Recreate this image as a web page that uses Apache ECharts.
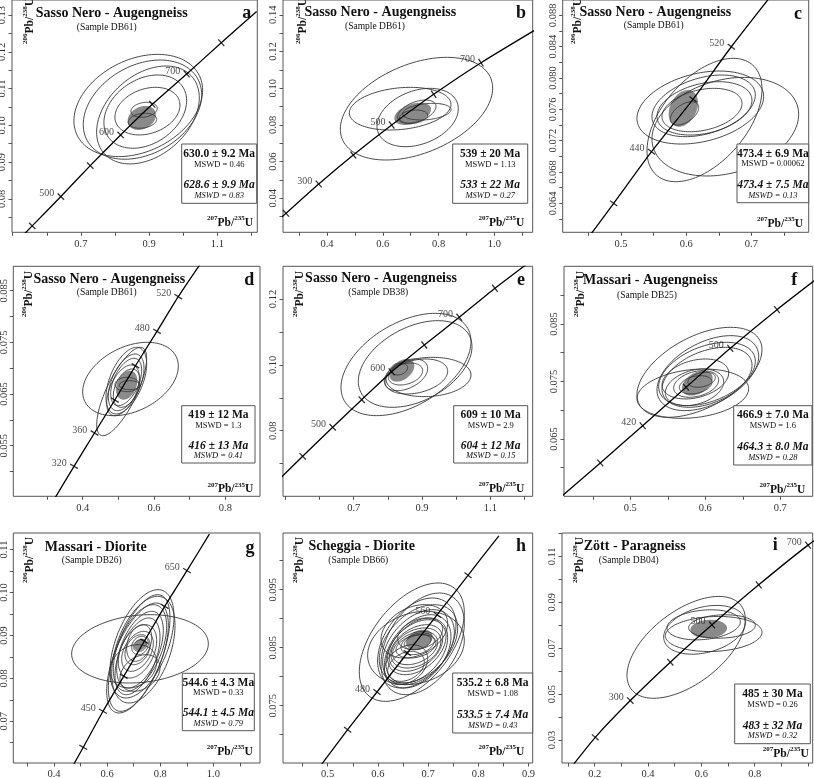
<!DOCTYPE html>
<html><head><meta charset="utf-8">
<script src="https://cdn.jsdelivr.net/npm/echarts@6/dist/echarts.min.js"></script>
<style>html,body{margin:0;padding:0;background:#fff}#c{width:814px;height:778px}</style>
</head><body><div id="c"></div>
<script>
// ================= DATA =================
const titles = ['Sasso Nero - Augengneiss','Sasso Nero - Augengneiss','Sasso Nero - Augengneiss','Sasso Nero - Augengneiss','Sasso Nero - Augengneiss','Massari - Augengneiss','Massari - Diorite','Scheggia - Diorite','Zött - Paragneiss'];
const samples = ['(Sample DB61)','(Sample DB61)','(Sample DB61)','(Sample DB61)','(Sample DB38)','(Sample DB25)','(Sample DB26)','(Sample DB66)','(Sample DB04)'];
const letters = ['a','b','c','d','e','f','g','h','i'];

// Panel a
const aXRange = [0.498, 1.217], aYRange = [0.0709, 0.1341];
const aXTicks = [0.5,0.6,0.7,0.8,0.9,1.0,1.1,1.2];
const aXLabels = ['0.7','0.9','1.1'];
const aYTicks = [0.075,0.08,0.085,0.09,0.095,0.1,0.105,0.11,0.115,0.12,0.125,0.13];
const aYLabels = ['0.08','0.09','0.10','0.11','0.12','0.13'];
// [age, 207Pb/235U, 206Pb/238U, tick, label]
const aConcordia = [[400,0.473,0.0646,0,0],[450,0.5572,0.07266,1,0],[500,0.6413,0.08063,1,1],[550,0.7273,0.08905,1,0],[600,0.8164,0.09739,1,1],[650,0.9091,0.10573,1,0],[700,1.0100,0.11397,1,1],[750,1.1114,0.12247,1,0],[800,1.215,0.1310,0,0]];
// [xMin, xMax, yMin, yMax, rho]
const aEllipses = [[0.6795,1.0568,0.09150,0.11931,0.3],[0.7068,1.0539,0.09078,0.11777,0.3],[0.7460,1.0470,0.08951,0.11614,0.35],[0.7674,1.0099,0.09377,0.11370,0.3],[0.7997,0.9903,0.09739,0.11034,0.25],[0.8466,0.9238,0.10219,0.10627,0.2],[0.8388,0.9219,0.09920,0.10328,0.2]];
const aMean = [0.8369,0.9199,0.09875,0.10527,0.25];
const aResult = ['630.0 ± 9.2 Ma','MSWD = 0.46','628.6 ± 9.9 Ma','MSWD = 0.83'];

// Panel b
const bXRange = [0.2423, 1.1373], bYRange = [0.02147, 0.14807];
const bXTicks = [0.3,0.4,0.5,0.6,0.7,0.8,0.9,1.0,1.1];
const bXLabels = ['0.4','0.6','0.8','1.0'];
const bYTicks = [0.03,0.04,0.05,0.06,0.07,0.08,0.09,0.1,0.11,0.12,0.13,0.14];
const bYLabels = ['0.04','0.06','0.08','0.10','0.12','0.14'];
const bConcordia = [[100,0.136,0.0158,0,0],[200,0.2530,0.03183,1,0],[300,0.3703,0.04779,1,1],[400,0.4943,0.06360,1,0],[500,0.6319,0.07995,1,1],[600,0.7824,0.09668,1,0],[700,0.9520,0.11390,1,1],[800,1.142,0.1314,0,0]];
const bEllipses = [[0.4478,0.9938,0.06087,0.11682,0.4],[0.4800,0.8444,0.07722,0.10047,0.2],[0.5792,0.8707,0.06814,0.09993,0.3],[0.6533,0.7907,0.08086,0.09357,0.45],[0.6593,0.7608,0.08086,0.08812,0.2],[0.6712,0.8444,0.08267,0.09175,0.25]];
const bMean = [0.6413,0.7728,0.07995,0.09211,0.4];
const bResult = ['539 ± 20 Ma','MSWD = 1.13','533 ± 22 Ma','MSWD = 0.27'];

// Panel c
const cXRange = [0.4106, 0.7879], cYRange = [0.0603, 0.08996];
const cXTicks = [0.45,0.5,0.55,0.6,0.65,0.7,0.75];
const cXLabels = ['0.5','0.6','0.7'];
const cYTicks = [0.062,0.064,0.066,0.068,0.07,0.072,0.074,0.076,0.078,0.08,0.082,0.084,0.086,0.088];
const cYLabels = ['0.064','0.068','0.072','0.076','0.080','0.084','0.088'];
const cConcordia = [[360,0.430,0.0574,0,0],[400,0.4888,0.0640,1,0],[440,0.5468,0.07059,1,1],[480,0.6104,0.07728,1,0],[520,0.6692,0.08399,1,1],[560,0.733,0.0908,0,0]];
const cEllipses = [[0.5245,0.7188,0.07157,0.08089,0.3],[0.5475,0.7725,0.06749,0.08008,0.25],[0.5399,0.7163,0.06676,0.08251,0.5],[0.5475,0.7060,0.07251,0.08038,0.35],[0.5552,0.7009,0.07272,0.07953,0.3],[0.5629,0.6856,0.07314,0.07868,0.3],[0.5757,0.6191,0.07400,0.07697,0.5]];
const cMean = [0.5731,0.6181,0.07378,0.07846,0.3];
const cResult = ['473.4 ± 6.9 Ma','MSWD = 0.00062','473.4 ± 7.5 Ma','MSWD = 0.13'];

// Panel d
const dXRange = [0.2054, 0.8971], dYRange = [0.04521, 0.08972];
const dXTicks = [0.3,0.4,0.5,0.6,0.7,0.8];
const dXLabels = ['0.4','0.6','0.8'];
const dYTicks = [0.05,0.055,0.06,0.065,0.07,0.075,0.08,0.085];
const dYLabels = ['0.055','0.065','0.075','0.085'];
const dConcordia = [[280,0.318,0.0444,0,0],[320,0.3756,0.05101,1,1],[360,0.4331,0.05746,1,1],[400,0.4900,0.06384,1,0],[440,0.5480,0.07048,1,0],[480,0.6083,0.07714,1,1],[520,0.6680,0.08384,1,1],[560,0.7359,0.0908,0,0]];
const dEllipses = [[0.3999,0.6681,0.06081,0.07501,0.35],[0.4392,0.5793,0.05694,0.07404,0.75],[0.4653,0.5793,0.06114,0.07404,0.5],[0.4719,0.5719,0.06178,0.07275,0.5],[0.4784,0.5653,0.06275,0.07191,0.5],[0.4672,0.5588,0.06081,0.07062,0.5],[0.4859,0.5606,0.06243,0.06984,0.4],[0.4906,0.5588,0.06546,0.06823,0],[0.5027,0.5606,0.06584,0.06759,0]];
const dMean = [0.4934,0.5532,0.06391,0.06952,0.3];
const dResult = ['419 ± 12 Ma','MSWD = 1.3','416 ± 13 Ma','MSWD = 0.41'];

// Panel e
const eXRange = [0.4931, 1.2239], eYRange = [0.06007, 0.12994];
const eXTicks = [0.5,0.6,0.7,0.8,0.9,1.0,1.1,1.2];
const eXLabels = ['0.7','0.9','1.1'];
const eYTicks = [0.07,0.08,0.09,0.1,0.11,0.12];
const eYLabels = ['0.08','0.10','0.12'];
const eConcordia = [[400,0.468,0.0638,0,0],[450,0.5507,0.07222,1,0],[500,0.6385,0.08103,1,1],[550,0.7234,0.08942,1,0],[600,0.8112,0.09792,1,1],[650,0.9066,0.10603,1,0],[700,1.0090,0.11445,1,1],[750,1.1135,0.12326,1,0],[800,1.222,0.1318,0,0]];
const eEllipses = [[0.6628,1.0433,0.08457,0.11565,0.45],[0.7135,1.0462,0.08710,0.11342,0.4],[0.7945,1.0433,0.09034,0.10229,0.1],[0.7916,0.9750,0.09115,0.10178,0.3],[0.7896,0.9165,0.09216,0.10178,0.4],[0.8013,0.9018,0.09388,0.10057,0.3],[0.8072,0.8579,0.09692,0.10057,0.2]];
const eMean = [0.8043,0.8774,0.09489,0.10178,0.4];
const eResult = ['609 ± 10 Ma','MSWD = 2.9','604 ± 12 Ma','MSWD = 0.15'];

// Panel f
const fXRange = [0.4116, 0.7432], fYRange = [0.05503, 0.09503];
const fXTicks = [0.45,0.5,0.55,0.6,0.65,0.7];
const fXLabels = ['0.5','0.6','0.7'];
const fYTicks = [0.06,0.065,0.07,0.075,0.08,0.085,0.09];
const fYLabels = ['0.065','0.075','0.085'];
const fConcordia = [[340,0.400,0.0541,0,0],[380,0.4600,0.06083,1,0],[420,0.5165,0.06731,1,1],[460,0.5743,0.07399,1,0],[500,0.6333,0.08077,1,1],[540,0.6956,0.08749,1,0],[580,0.762,0.0942,0,0]];
const fEllipses = [[0.5089,0.6756,0.06877,0.08442,0.5],[0.5356,0.6712,0.06993,0.08297,0.45],[0.5089,0.6578,0.06859,0.07717,0.2],[0.5378,0.6667,0.07080,0.08181,0.4],[0.5423,0.6623,0.07051,0.08094,0.4],[0.5423,0.6312,0.07196,0.07891,0.3],[0.5467,0.6245,0.07080,0.07717,0.3],[0.5578,0.6178,0.07225,0.07688,0.3],[0.5654,0.6089,0.07283,0.07601,0.3],[0.5769,0.6134,0.07399,0.07659,0.3]];
const fMean = [0.5689,0.6098,0.07254,0.07688,0.4];
const fResult = ['466.9 ± 7.0 Ma','MSWD = 1.6','464.3 ± 8.0 Ma','MSWD = 0.28'];

// Panel g
const gXRange = [0.2468, 1.1756], gYRange = [0.06028, 0.11387];
const gXTicks = [0.3,0.4,0.5,0.6,0.7,0.8,0.9,1.0,1.1];
const gXLabels = ['0.4','0.6','0.8','1.0'];
const gYTicks = [0.065,0.07,0.075,0.08,0.085,0.09,0.095,0.1,0.105,0.11];
const gYLabels = ['0.07','0.08','0.09','0.10','0.11'];
const gConcordia = [[350,0.436,0.0558,0,0],[400,0.5103,0.06394,1,0],[450,0.5845,0.07233,1,1],[500,0.6624,0.08048,1,0],[550,0.7400,0.08864,1,0],[600,0.8168,0.09679,1,0],[650,0.9007,0.10509,1,1],[700,0.985,0.1136,0,0]];
const gEllipses = [[0.4665,0.9811,0.07892,0.09484,0.15],[0.6108,0.8518,0.07543,0.10067,0.5],[0.6046,0.8367,0.07232,0.09950,0.6],[0.5983,0.8305,0.07193,0.09756,0.6],[0.6171,0.8556,0.07426,0.09912,0.45],[0.6234,0.8242,0.07698,0.09717,0.5],[0.6360,0.8116,0.07776,0.09562,0.5],[0.6297,0.7991,0.07620,0.09407,0.5],[0.6422,0.7866,0.08009,0.09251,0.4],[0.6548,0.7740,0.08164,0.09096,0.4],[0.6673,0.7614,0.08319,0.09018,0.3],[0.6736,0.7677,0.08397,0.09251,0.3],[0.6108,0.7866,0.07776,0.08786,0.2],[0.6924,0.7552,0.08552,0.08980,0.2],[0.6987,0.7489,0.08630,0.08902,0.2],[0.6485,0.7991,0.07698,0.08552,0.3]];
const gMean = [0.7012,0.7489,0.08646,0.08925,0.3];
const gResult = ['544.6 ± 4.3 Ma','MSWD = 0.33','544.1 ± 4.5 Ma','MSWD = 0.79'];

// Panel h
const hXRange = [0.4110, 0.9084], hYRange = [0.06512, 0.10478];
const hXTicks = [0.45,0.5,0.55,0.6,0.65,0.7,0.75,0.8,0.85,0.9];
const hXLabels = ['0.5','0.6','0.7','0.8','0.9'];
const hYTicks = [0.07,0.075,0.08,0.085,0.09,0.095,0.1];
const hYLabels = ['0.075','0.085','0.095'];
const hConcordia = [[400,0.481,0.0641,0,0],[440,0.5398,0.07086,1,0],[480,0.5982,0.07736,1,1],[520,0.6586,0.08409,1,0],[560,0.7183,0.09069,1,1],[600,0.7795,0.09748,1,0],[640,0.841,0.1043,0,0]];
const hEllipses = [[0.5630,0.7722,0.07575,0.09616,0.5],[0.5796,0.7722,0.07863,0.09127,0.2],[0.6062,0.7722,0.07690,0.09443,0.4],[0.5995,0.7556,0.07805,0.09357,0.4],[0.6028,0.7589,0.07891,0.09242,0.4],[0.6095,0.7523,0.07863,0.09156,0.4],[0.6128,0.7456,0.07805,0.09069,0.4],[0.6161,0.7390,0.07891,0.09012,0.4],[0.6195,0.7357,0.08035,0.08983,0.4],[0.6228,0.7291,0.08092,0.08897,0.4],[0.6261,0.7257,0.08150,0.08840,0.35],[0.6294,0.7191,0.08207,0.08782,0.35],[0.6361,0.7157,0.08322,0.08725,0.3],[0.6460,0.7124,0.08380,0.08753,0.3],[0.6526,0.7058,0.08466,0.08725,0.3],[0.6128,0.6991,0.07863,0.08552,0.3],[0.6195,0.6925,0.07920,0.08437,0.3],[0.6062,0.7390,0.08322,0.09242,0.3],[0.6394,0.7291,0.08466,0.09012,0.3]];
const hMean = [0.6560,0.7091,0.08466,0.08811,0.3];
const hResult = ['535.2 ± 6.8 Ma','MSWD = 1.08','533.5 ± 7.4 Ma','MSWD = 0.43'];

// Panel i
const iXRange = [0.0774, 1.0174], iYRange = [0.02, 0.12018];
const iXTicks = [0.1,0.2,0.3,0.4,0.5,0.6,0.7,0.8,0.9,1.0];
const iXLabels = ['0.2','0.4','0.6','0.8'];
const iYTicks = [0.03,0.04,0.05,0.06,0.07,0.08,0.09,0.1,0.11,0.12];
const iYLabels = ['0.03','0.05','0.07','0.09','0.11'];
const iConcordia = [[100,0.095,0.0156,0,0],[200,0.2022,0.03118,1,0],[300,0.3335,0.04719,1,1],[400,0.4835,0.06390,1,0],[500,0.6398,0.08017,1,1],[600,0.815,0.0976,1,0],[700,1.000,0.1149,1,1],[800,1.21,0.1325,0,0]];
const iEllipses = [[0.3211,0.7648,0.04819,0.09255,0.55],[0.4586,0.7648,0.06739,0.08863,0.3],[0.4648,0.8273,0.06856,0.08383,0.1],[0.4711,0.7461,0.07364,0.08673,0.2],[0.5523,0.8023,0.07437,0.08455,0.1]];
const iMean = [0.5586,0.6961,0.07437,0.08237,0.1];
const iResult = ['485 ± 30 Ma','MSWD = 0.26','483 ± 32 Ma','MSWD = 0.32'];

// ================= LAYOUT (pixels) =================
const LAYOUT = [
  {grid:[12,0,245.3,232.3], title:[111.7,13.3], sample:[106.7,27.3], letter:[246.7,13.3], box:[181.7,144,75,59.3], yname:[29,21], xname:[253,221.7]},
  {grid:[283,0,249.7,232.3], title:[380.3,12.7], sample:[375,26], letter:[521,13.3], box:[452.7,144,75,59.3], yname:[302,21], xname:[524.3,221.7]},
  {grid:[562.7,0,246,232.3], title:[655.3,12.7], sample:[653.7,25], letter:[798,14], box:[737,144,71.7,58.7], yname:[577,21], xname:[803,222.7]},
  {grid:[13.3,266.3,246.7,230], title:[109.3,279], sample:[106.7,292.3], letter:[249.3,280.7], box:[181.7,405.7,73.3,57.3], yname:[28,294], xname:[253.3,488.3]},
  {grid:[283,266.3,249.7,230], title:[381,278.3], sample:[378.3,292.3], letter:[521,280.7], box:[453.7,405.7,74,57.3], yname:[299,294], xname:[524.3,488]},
  {grid:[564,266.3,248.7,230], title:[650.3,280.7], sample:[647,295], letter:[794.3,280.7], box:[733.7,405.7,78.3,59.3], yname:[580,294], xname:[805.3,488.7]},
  {grid:[13.3,533,246.7,230], title:[95.7,547.3], sample:[91.7,560.7], letter:[250,548.7], box:[182.3,673.3,72,57.4], yname:[29,560], xname:[252.7,750.7]},
  {grid:[283,533,249.7,230], title:[361.7,546.3], sample:[358.3,560.7], letter:[521,546.3], box:[452.7,673,80,60], yname:[299,560], xname:[524.3,751]},
  {grid:[562,533,250.7,230], title:[634.7,546.3], sample:[628.7,560.7], letter:[775.3,545.3], box:[734.7,684,75.6,59.7], yname:[579,560], xname:[808.7,753]}
];

const panels = [
  {xr:aXRange,yr:aYRange,xt:aXTicks,xl:aXLabels,yt:aYTicks,yl:aYLabels,conc:aConcordia,ell:aEllipses,mean:aMean,res:aResult},
  {xr:bXRange,yr:bYRange,xt:bXTicks,xl:bXLabels,yt:bYTicks,yl:bYLabels,conc:bConcordia,ell:bEllipses,mean:bMean,res:bResult},
  {xr:cXRange,yr:cYRange,xt:cXTicks,xl:cXLabels,yt:cYTicks,yl:cYLabels,conc:cConcordia,ell:cEllipses,mean:cMean,res:cResult},
  {xr:dXRange,yr:dYRange,xt:dXTicks,xl:dXLabels,yt:dYTicks,yl:dYLabels,conc:dConcordia,ell:dEllipses,mean:dMean,res:dResult},
  {xr:eXRange,yr:eYRange,xt:eXTicks,xl:eXLabels,yt:eYTicks,yl:eYLabels,conc:eConcordia,ell:eEllipses,mean:eMean,res:eResult},
  {xr:fXRange,yr:fYRange,xt:fXTicks,xl:fXLabels,yt:fYTicks,yl:fYLabels,conc:fConcordia,ell:fEllipses,mean:fMean,res:fResult},
  {xr:gXRange,yr:gYRange,xt:gXTicks,xl:gXLabels,yt:gYTicks,yl:gYLabels,conc:gConcordia,ell:gEllipses,mean:gMean,res:gResult},
  {xr:hXRange,yr:hYRange,xt:hXTicks,xl:hXLabels,yt:hYTicks,yl:hYLabels,conc:hConcordia,ell:hEllipses,mean:hMean,res:hResult},
  {xr:iXRange,yr:iYRange,xt:iXTicks,xl:iXLabels,yt:iYTicks,yl:iYLabels,conc:iConcordia,ell:iEllipses,mean:iMean,res:iResult}
];

// ================= BUILD =================
const FONT = '"Liberation Serif", "Times New Roman", serif';
const INK = '#111';
function lab(v, nums, strs) {
  for (let k = 0; k < nums.length; k++) if (Math.abs(nums[k] - v) < 1e-9) return strs[k];
  return '';
}
function ellipseRenderer(filled) {
  return function (params, api) {
    const x0 = api.value(0), x1 = api.value(1), y0 = api.value(2), y1 = api.value(3), r = api.value(4);
    const cx = (x0 + x1) / 2, cy = (y0 + y1) / 2, a = (x1 - x0) / 2, b = (y1 - y0) / 2, s = Math.sqrt(1 - r * r);
    const pts = [];
    for (let k = 0; k < 120; k++) {
      const t = k / 120 * Math.PI * 2;
      pts.push(api.coord([cx + a * Math.cos(t), cy + b * (r * Math.cos(t) + s * Math.sin(t))]));
    }
    return {
      type: 'polygon', shape: { points: pts },
      style: filled ? { fill: '#8a8a8a', stroke: null, lineWidth: 0 } : { fill: null, stroke: '#353535', lineWidth: 0.9 }
    };
  };
}

const grids = [], xAxes = [], yAxes = [], series = [], graphics = [];
panels.forEach((p, i) => {
  const L = LAYOUT[i];
  grids.push({ left: L.grid[0], top: L.grid[1], width: L.grid[2], height: L.grid[3], show: true,
    borderColor: '#555', borderWidth: 1, backgroundColor: 'rgba(0,0,0,0)', containLabel: false, outerBoundsMode: 'none' });
  const xn = p.xl.map(Number), yn = p.yl.map(Number);
  xAxes.push({ gridIndex: i, type: 'value', min: p.xr[0], max: p.xr[1], position: 'bottom',
    axisLine: { show: false, onZero: false }, splitLine: { show: false },
    axisTick: { show: true, inside: false, length: 3.5, customValues: p.xt, lineStyle: { color: '#555', width: 1 } },
    axisLabel: { show: true, customValues: xn, formatter: v => lab(v, xn, p.xl), fontFamily: FONT, fontSize: 10.5, color: '#333', margin: 6, hideOverlap: false } });
  yAxes.push({ gridIndex: i, type: 'value', min: p.yr[0], max: p.yr[1], position: 'left',
    axisLine: { show: false, onZero: false }, splitLine: { show: false },
    axisTick: { show: true, inside: false, length: 3.5, customValues: p.yt, lineStyle: { color: '#555', width: 1 } },
    axisLabel: { show: true, customValues: yn, formatter: v => lab(v, yn, p.yl), rotate: 90, fontFamily: FONT, fontSize: 10.5, color: '#333', margin: 4, hideOverlap: false } });

  // gray concordia-age ellipse
  series.push({ type: 'custom', xAxisIndex: i, yAxisIndex: i, data: [p.mean], renderItem: ellipseRenderer(true),
    encode: { x: [0, 1], y: [2, 3] }, clip: true, silent: true, animation: false, z: 1 });
  // analysis error ellipses
  series.push({ type: 'custom', xAxisIndex: i, yAxisIndex: i, data: p.ell, renderItem: ellipseRenderer(false),
    encode: { x: [0, 1], y: [2, 3] }, clip: true, silent: true, animation: false, z: 2 });
  // concordia curve
  series.push({ type: 'line', xAxisIndex: i, yAxisIndex: i, data: p.conc.map(c => [c[1], c[2]]),
    symbol: 'none', showSymbol: false, smooth: 0.2, lineStyle: { color: '#000', width: 1.3 }, clip: true, silent: true, animation: false, z: 3 });
  // age ticks on concordia
  const pxX = L.grid[2] / (p.xr[1] - p.xr[0]), pxY = L.grid[3] / (p.yr[1] - p.yr[0]);
  const tickData = [];
  p.conc.forEach((c, k) => {
    if (!c[3]) return;
    const a = p.conc[Math.max(0, k - 1)], b = p.conc[Math.min(p.conc.length - 1, k + 1)];
    const ang = Math.atan2((b[2] - a[2]) * pxY, (b[1] - a[1]) * pxX) * 180 / Math.PI;
    tickData.push({ value: [c[1], c[2], c[0]], symbolRotate: ang, label: { show: !!c[4] } });
  });
  series.push({ type: 'scatter', xAxisIndex: i, yAxisIndex: i, data: tickData, symbol: 'rect', symbolSize: [1.3, 9],
    itemStyle: { color: '#000' }, silent: true, animation: false, z: 4,
    label: { show: true, position: 'left', distance: 3, offset: [0, -3], formatter: q => String(q.value[2]),
      fontFamily: FONT, fontSize: 10, color: '#222' } });

  // titles and texts
  const T = (x, y, text, font, align, extra) => Object.assign({ type: 'text', x: x, y: y, z: 100,
    style: { text: text, font: font, fill: INK, align: align || 'center', verticalAlign: 'middle', textAlign: align || 'center', textVerticalAlign: 'middle' } }, extra || {});
  graphics.push(T(L.title[0], L.title[1], titles[i], 'bold 14px ' + FONT));
  graphics.push(T(L.sample[0], L.sample[1], samples[i], '9.5px ' + FONT));
  graphics.push(T(L.letter[0], L.letter[1], letters[i], 'bold 18px ' + FONT));

  const rich = {
    s: { fontSize: 7, fontWeight: 'bold', fontFamily: FONT, fill: INK, color: INK, verticalAlign: 'top', lineHeight: 14 },
    m: { fontSize: 11.5, fontWeight: 'bold', fontFamily: FONT, fill: INK, color: INK, verticalAlign: 'bottom', lineHeight: 14 }
  };
  graphics.push({ type: 'text', x: L.yname[0], y: L.yname[1], rotation: Math.PI / 2, z: 100,
    style: { text: '{s|206}{m|Pb/}{s|238}{m|U}', rich: rich, align: 'center', verticalAlign: 'middle', textAlign: 'center', textVerticalAlign: 'middle' } });
  graphics.push({ type: 'text', x: L.xname[0], y: L.xname[1], z: 100,
    style: { text: '{s|207}{m|Pb/}{s|235}{m|U}', rich: rich, align: 'right', verticalAlign: 'middle', textAlign: 'right', textVerticalAlign: 'middle' } });

  const B = L.box;
  graphics.push({ type: 'rect', z: 99, shape: { x: B[0], y: B[1], width: B[2], height: B[3] },
    style: { fill: '#fff', stroke: '#555', lineWidth: 1 } });
  const cxb = B[0] + B[2] / 2;
  graphics.push(T(cxb, B[1] + B[3] * 0.165, p.res[0], 'bold 11.5px ' + FONT));
  graphics.push(T(cxb, B[1] + B[3] * 0.345, p.res[1], '8.5px ' + FONT));
  graphics.push(T(cxb, B[1] + B[3] * 0.70, p.res[2], 'italic bold 11.5px ' + FONT));
  graphics.push(T(cxb, B[1] + B[3] * 0.875, p.res[3], 'italic 8.5px ' + FONT));
});

const chart = echarts.init(document.getElementById('c'), null, { renderer: 'canvas' });
chart.setOption({
  animation: false,
  backgroundColor: '#fff',
  textStyle: { fontFamily: FONT },
  grid: grids, xAxis: xAxes, yAxis: yAxes, series: series,
  graphic: { elements: graphics }
});
</script></body></html>
